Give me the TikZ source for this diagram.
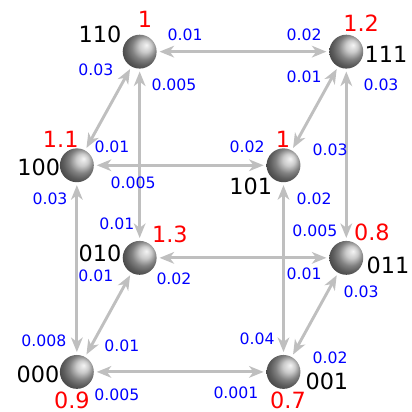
\documentclass[tikz,border=0pt]{standalone}
\usepackage{fontspec}
\setmainfont{DejaVu Sans}
\usetikzlibrary{arrows.meta}
\begin{document}
\begin{tikzpicture}[>={Stealth[length=10pt, width=8pt, inset=3pt]},
			ball/.style={circle, shading=ball, ball color=gray!55, shading angle=-90, inner sep=0pt, minimum size=0.82cm, outer sep=2pt},
			state/.style={inner sep=0pt, font=\fontsize{15.4}{16}\selectfont},
			val/.style={state, text=red},
			rate/.style={inner sep=0pt, text=blue, font=\fontsize{10.8}{12}\selectfont},
			link/.style={<->, line width=2pt, draw=lightgray}]
			\useasboundingbox (-1.86,-0.97) rectangle (8.11,9.0);
			% 立方体的八个顶点
			\coordinate (p000) at (0, 0);
			\coordinate (p001) at (5, 0);
			\coordinate (p100) at (0, 5);
			\coordinate (p101) at (5, 5);
			\coordinate (p010) at (1.52, 2.76);
			\coordinate (p011) at (6.52, 2.76);
			\coordinate (p110) at (1.52, 7.75);
			\coordinate (p111) at (6.52, 7.75);
			\node[ball] (b000) at (p000) {};
			\node[ball] (b001) at (p001) {};
			\node[ball] (b100) at (p100) {};
			\node[ball] (b101) at (p101) {};
			\node[ball] (b010) at (p010) {};
			\node[ball] (b011) at (p011) {};
			\node[ball] (b110) at (p110) {};
			\node[ball] (b111) at (p111) {};
			% 边：双向箭头
			\draw[link] (b110) -- (b111);
			\draw[link] (b100) -- (b101);
			\draw[link] (b010) -- (b011);
			\draw[link] (b000) -- (b001);
			\draw[link] (b110) -- (b010);
			\draw[link] (b100) -- (b000);
			\draw[link] (b111) -- (b011);
			\draw[link] (b101) -- (b001);
			\draw[link] (b110) -- (b100);
			\draw[link] (b111) -- (b101);
			\draw[link] (b010) -- (b000);
			\draw[link] (b011) -- (b001);
			% 状态名与数值
			\node[state] (s110) at (0.56, 8.16)   {110};
			\node[state] (s111) at (7.48, 7.675)  {111};
			\node[state] (s100) at (-0.92, 4.96)  {100};
			\node[state] (s101) at (4.21, 4.48)   {101};
			\node[state] (s010) at (0.56, 2.86)   {010};
			\node[state] (s011) at (7.53, 2.57)   {011};
			\node[state] (s000) at (-0.94, -0.05) {000};
			\node[state] (s001) at (6.05, -0.22)  {001};
			\node[val] (v110) at (1.65, 8.52)   {1};
			\node[val] (v111) at (6.88, 8.45)   {1.2};
			\node[val] (v100) at (-0.39, 5.62)  {1.1};
			\node[val] (v101) at (4.99, 5.62)   {1};
			\node[val] (v010) at (2.25, 3.34)   {1.3};
			\node[val] (v011) at (7.14, 3.37)   {0.8};
			\node[val] (v000) at (-0.12, -0.68) {0.9};
			\node[val] (v001) at (5.11, -0.68)  {0.7};
			% 转移速率
			\node[rate] (r110a) at (2.62, 8.16)  {0.01};
			\node[rate] (r110b) at (0.46, 7.31)  {0.03};
			\node[rate] (r110c) at (2.35, 6.95)  {0.005};
			\node[rate] (r111a) at (5.50, 8.16)  {0.02};
			\node[rate] (r111b) at (5.50, 7.14)  {0.01};
			\node[rate] (r111c) at (7.36, 6.95)  {0.03};
			\node[rate] (r100a) at (0.85, 5.45)  {0.01};
			\node[rate] (r100b) at (1.36, 4.58)  {0.005};
			\node[rate] (r100c) at (-0.65, 4.19) {0.03};
			\node[rate] (r101a) at (4.12, 5.45)  {0.02};
			\node[rate] (r101b) at (6.13, 5.38)  {0.03};
			\node[rate] (r101c) at (5.74, 4.19)  {0.02};
			\node[rate] (r010a) at (0.97, 3.58)  {0.01};
			\node[rate] (r010b) at (0.46, 2.33)  {0.01};
			\node[rate] (r010c) at (2.35, 2.25)  {0.02};
			\node[rate] (r011a) at (5.76, 3.41)  {0.005};
			\node[rate] (r011b) at (5.50, 2.37)  {0.01};
			\node[rate] (r011c) at (6.88, 1.94)  {0.03};
			\node[rate] (r000a) at (-0.80, 0.75) {0.008};
			\node[rate] (r000b) at (1.09, 0.63)  {0.01};
			\node[rate] (r000c) at (0.97, -0.56) {0.005};
			\node[rate] (r001a) at (4.36, 0.80)  {0.04};
			\node[rate] (r001b) at (6.13, 0.34)  {0.02};
			\node[rate] (r001c) at (3.85, -0.51) {0.001};
		\end{tikzpicture}
\end{document}
